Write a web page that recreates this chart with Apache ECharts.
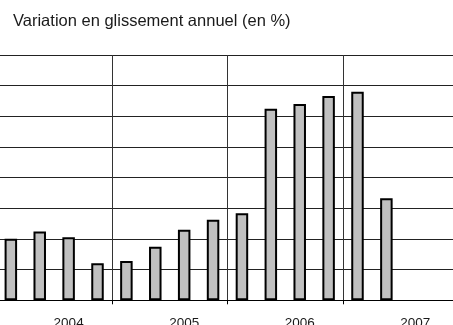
<!DOCTYPE html>
<html>
<head>
<meta charset="utf-8">
<script src="https://cdn.jsdelivr.net/npm/echarts@6/dist/echarts.min.js"></script>
<style>
  html, body { margin: 0; padding: 0; background: #fff; }
  #chart { width: 453px; height: 325px; }
</style>
</head>
<body>
<div id="chart"></div>
<script>
// Quarterly year-on-year variation, in percent
const years = ['2004', '2005', '2006', '2007'];
const quarters = ['T1', 'T2', 'T3', 'T4'];
const values = [
  2.01, 2.24, 2.06, 1.21,   // 2004
  1.28, 1.75, 2.30, 2.63,   // 2005
  2.84, 6.25, 6.40, 6.66,   // 2006
  6.80, 3.33                // 2007 (T1, T2)
];
const yMin = 0;
const yMax = 8;
const yStep = 1;

const categories = [];
years.forEach(y => quarters.forEach(q => categories.push(q + ' ' + y)));

const chart = echarts.init(document.getElementById('chart'), null, { renderer: 'canvas' });

chart.setOption({
  backgroundColor: '#ffffff',
  animation: false,
  title: {
    text: 'Variation en glissement annuel (en %)',
    left: 8,
    top: 8,
    textStyle: {
      fontFamily: 'Liberation Sans, Arial, sans-serif',
      fontSize: 16.5,
      fontWeight: 'normal',
      color: '#1a1a1a'
    }
  },
  grid: {
    left: -3.6,
    right: -5.6,
    top: 55,
    bottom: 24.7,
    outerBoundsMode: 'none',
    containLabel: false
  },
  xAxis: {
    type: 'category',
    data: categories,
    boundaryGap: true,
    axisLine: { show: true, lineStyle: { color: '#000', width: 1 } },
    axisTick: {
      show: true,
      length: 4,
      interval: (i) => i % 4 === 0,
      lineStyle: { color: '#000', width: 1 }
    },
    splitLine: {
      show: true,
      interval: (i) => i % 4 === 0,
      lineStyle: { color: '#333', width: 1 }
    },
    axisLabel: {
      interval: 0,
      margin: 16,
      fontFamily: 'Liberation Sans, Arial, sans-serif',
      fontSize: 13.5,
      color: '#1a1a1a',
      formatter: (val, i) => (i % 4 === 2 ? val.split(' ')[1] : '')
    }
  },
  yAxis: {
    type: 'value',
    min: yMin,
    max: yMax,
    interval: yStep,
    axisLine: { show: false },
    axisTick: { show: false },
    axisLabel: { show: false },
    splitLine: { show: true, lineStyle: { color: '#222', width: 1 } }
  },
  series: [{
    type: 'bar',
    data: values,
    barWidth: 12.5,
    itemStyle: {
      color: '#c0c0c0',
      borderColor: '#000',
      borderWidth: 2
    }
  }]
});
</script>
</body>
</html>
